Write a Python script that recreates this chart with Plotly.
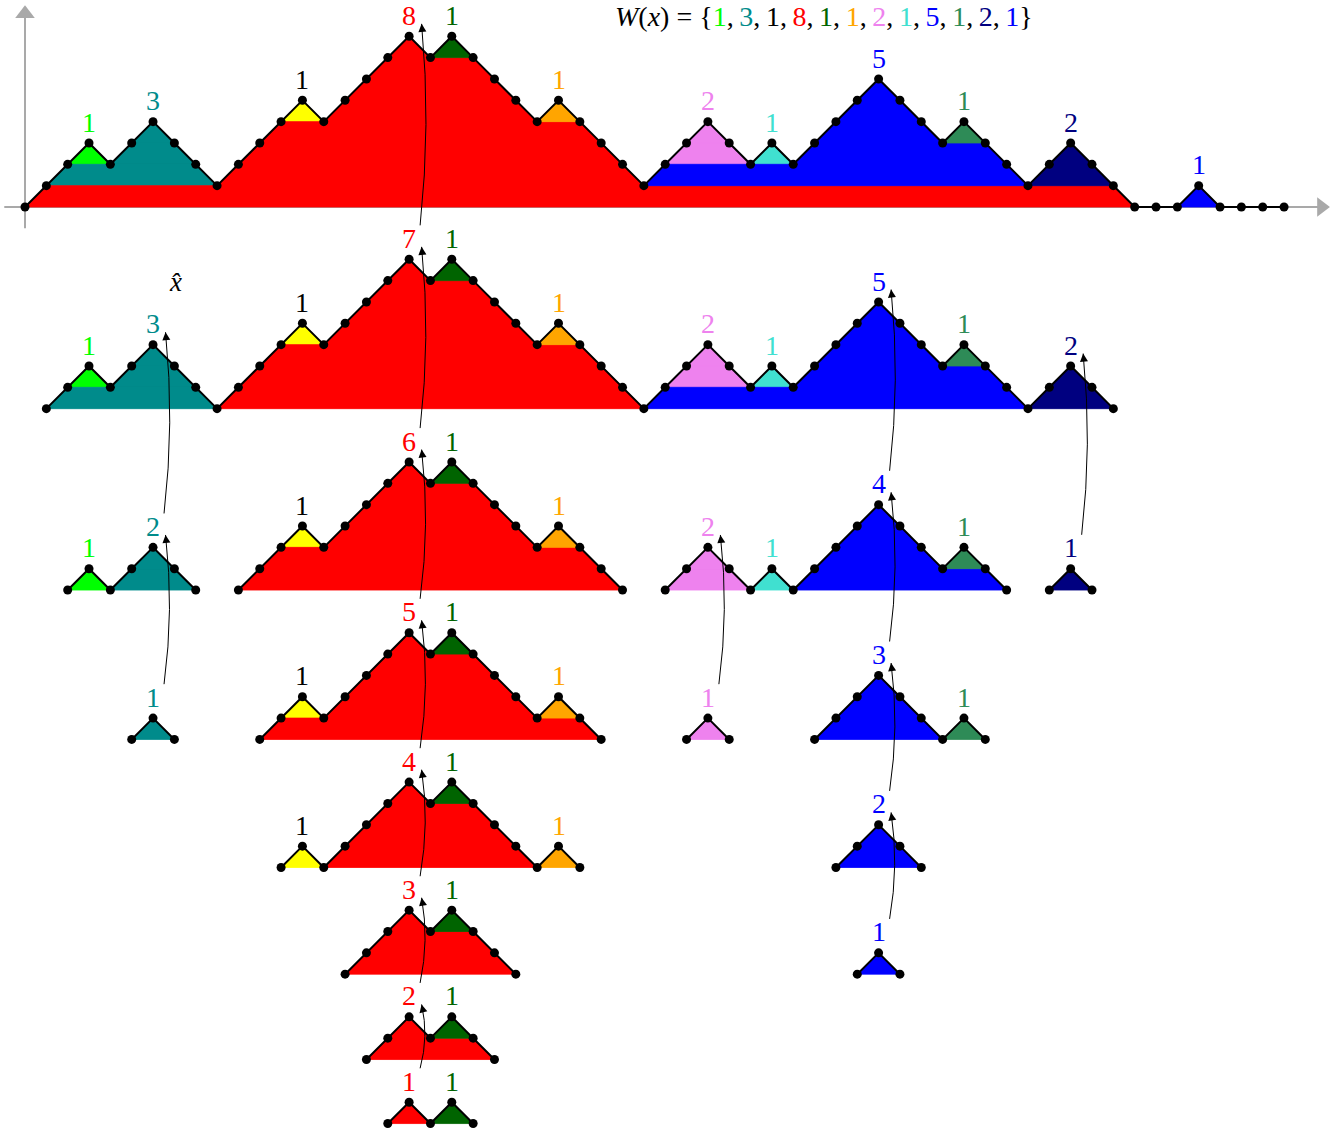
import math
import plotly.graph_objects as go

# ---------------- data ----------------
# heights of the lattice path (one value per lattice point, unit steps)
heights = [0, 1, 2, 3, 2, 3, 4, 3, 2, 1,
           2, 3, 4, 5, 4, 5, 6, 7, 8, 7,
           8, 7, 6, 5, 4, 5, 4, 3, 2, 1,
           2, 3, 4, 3, 2, 3, 2, 3, 4, 5,
           6, 5, 4, 3, 4, 3, 2, 1, 2, 3,
           2, 1, 0, 0, 0, 1, 0, 0, 0, 0]

region_names = ["lime", "teal", "yellow", "red", "darkgreen", "orange",
                "violet", "turquoise", "blue", "seagreen", "navy", "blue2"]
W = [1, 3, 1, 8, 1, 1, 2, 1, 5, 1, 2, 1]
# region index of every up-step, in left-to-right order
up_step_region = [3, 1, 0, 1, 1, 3, 3, 3, 2, 3, 3, 3, 3, 4, 5, 8, 6, 6, 7,
                  8, 8, 8, 8, 9, 10, 10, 11]

fill_colors = ["#00ff00", "#008b8b", "#ffff00", "#ff0000", "#006400", "#ffa500",
               "#ee82ee", "#40e0d0", "#0000ff", "#2e8b57", "#000080", "#0000ff"]
label_colors = ["#00ff00", "#008b8b", "#000000", "#ff0000", "#006400", "#ffa500",
                "#ee82ee", "#40e0d0", "#0000ff", "#2e8b57", "#000080", "#0000ff"]

# ---------------- layout constants ----------------
W_PX, H_PX = 1340, 1135
U = 21.34               # pixels per lattice unit
X0_PX, Y0_PX = 25, 207  # pixel position of the origin
row_gaps = [9.45, 8.5, 7.0, 6.0, 5.0, 4.0, 3.0]
n_rows = len(row_gaps) + 1
row_base = [0.0]
for g in row_gaps:
    row_base.append(row_base[-1] - g)

x_range = [-X0_PX / U, (W_PX - X0_PX) / U]
y_range = [(Y0_PX - H_PX) / U, Y0_PX / U]

LABEL_UP = 0.98
FONT = "Liberation Serif"
LABEL_SIZE = 28

# ---------------- strips (matched up/down pairs) ----------------
strips = []  # (i_up, j_down, base_height, region)
stack = []
k_up = 0
for i in range(len(heights) - 1):
    d = heights[i + 1] - heights[i]
    if d > 0:
        stack.append((i, heights[i], up_step_region[k_up]))
        k_up += 1
    elif d < 0:
        iu, h, r = stack.pop()
        strips.append((iu, i, h, r))

fig = go.Figure()

# ---------------- axes (top row) ----------------
AX_GRAY = "#a9a9a9"
fig.add_trace(go.Scatter(x=[x_range[0] + 0.2, 60.6], y=[0, 0], mode="lines",
                         line=dict(color=AX_GRAY, width=2), hoverinfo="skip"))
fig.add_trace(go.Scatter(x=[0, 0], y=[-1.0, 9.0], mode="lines",
                         line=dict(color=AX_GRAY, width=2), hoverinfo="skip"))
fig.add_trace(go.Scatter(x=[60.75], y=[0], mode="markers",
                         marker=dict(symbol="triangle-right", size=17, color=AX_GRAY),
                         hoverinfo="skip"))
fig.add_trace(go.Scatter(x=[0], y=[9.05], mode="markers",
                         marker=dict(symbol="triangle-up", size=17, color=AX_GRAY),
                         hoverinfo="skip"))

annotations = []
shapes = []
labels = {}  # (row, region) -> (x, y, count)

for row in range(n_rows):
    L = row
    base = row_base[row]
    # fills
    for r in range(len(region_names)):
        xs, ys = [], []
        for (iu, j, h, rr) in strips:
            if rr != r or h < L:
                continue
            hb = h - L
            xs += [iu, iu + 1, j, j + 1, iu, None]
            ys += [base + hb, base + hb + 1, base + hb + 1, base + hb, base + hb, None]
        if xs:
            fig.add_trace(go.Scatter(x=xs, y=ys, mode="lines", fill="toself",
                                     fillcolor=fill_colors[r],
                                     line=dict(color=fill_colors[r], width=0.8),
                                     hoverinfo="skip"))
    # labels
    for r in range(len(region_names)):
        rs = [(iu, j, h) for (iu, j, h, rr) in strips if rr == r and h >= L]
        if not rs:
            continue
        top = max(rs, key=lambda s: s[2])
        px = (top[0] + 1 + top[1]) / 2
        py = base + top[2] - L + 1
        labels[(row, r)] = (px, py + LABEL_UP, len(rs))

    # path
    xs, ys = [], []
    last = None
    for i in range(len(heights) - 1):
        a, b = heights[i], heights[i + 1]
        if min(a, b) < L:
            continue
        if last != i:
            if xs:
                xs.append(None)
                ys.append(None)
            xs.append(i)
            ys.append(base + a - L)
        xs.append(i + 1)
        ys.append(base + b - L)
        last = i + 1
    fig.add_trace(go.Scatter(x=xs, y=ys, mode="lines+markers",
                             line=dict(color="black", width=2),
                             marker=dict(color="black", size=9),
                             hoverinfo="skip"))

# label annotations
for (row, r), (lx, ly, cnt) in labels.items():
    annotations.append(dict(x=lx, y=ly, text=str(cnt), showarrow=False,
                            xanchor="center", yanchor="middle",
                            font=dict(family=FONT, size=LABEL_SIZE, color=label_colors[r])))

# growth arrows
for (row, r), (lx, ly, cnt) in labels.items():
    if row == 0 or (row - 1, r) not in labels:
        continue
    ux, uy, ucnt = labels[(row - 1, r)]
    if ucnt == cnt:
        continue
    x1, y1 = lx + 11 / U, ly + 13 / U
    x2, y2 = ux + 12.5 / U, uy - 8.5 / U
    length_px = (y2 - y1) * U
    bulge = 3.5 + 0.008 * length_px
    cx = (x1 + x2) / 2 + 2 * bulge / U
    cy = (y1 + y2) / 2
    shapes.append(dict(type="path", xref="x", yref="y", layer="above",
                       path=f"M {x1},{y1} Q {cx},{cy} {x2},{y2}",
                       line=dict(color="black", width=1)))
    dxp = (cx - x2) * U
    dyp = -(cy - y2) * U
    n = math.hypot(dxp, dyp)
    annotations.append(dict(x=x2, y=y2, ax=dxp / n * 7, ay=dyp / n * 7,
                            axref="pixel", ayref="pixel", text="",
                            showarrow=True, arrowhead=2, arrowsize=1.6,
                            arrowwidth=1, arrowcolor="black", standoff=0))

# x-hat label
annotations.append(dict(x=7.03, y=row_base[1] + 5.95, text="<i>x\u0302</i>",
                        showarrow=False, font=dict(family=FONT, size=27, color="black")))

# title formula
parts = [f"<span style='color:{label_colors[r]}'>{w}</span>" for r, w in enumerate(W)]
title = "<i>W</i>(<i>x</i>) = {" + ",\u2009".join(parts) + "}"
annotations.append(dict(x=37.44, y=8.92, text=title, showarrow=False,
                        xanchor="center", yanchor="middle",
                        font=dict(family=FONT, size=28, color="black")))

fig.update_layout(
    width=W_PX, height=H_PX,
    margin=dict(l=0, r=0, t=0, b=0),
    paper_bgcolor="white", plot_bgcolor="white",
    showlegend=False,
    xaxis=dict(range=x_range, visible=False, showgrid=False, zeroline=False, fixedrange=True),
    yaxis=dict(range=y_range, visible=False, showgrid=False, zeroline=False, fixedrange=True),
    annotations=annotations,
    shapes=shapes,
)

fig.write_html("out.html", config={"displayModeBar": False},
               post_script="document.body.style.margin='0px';")
